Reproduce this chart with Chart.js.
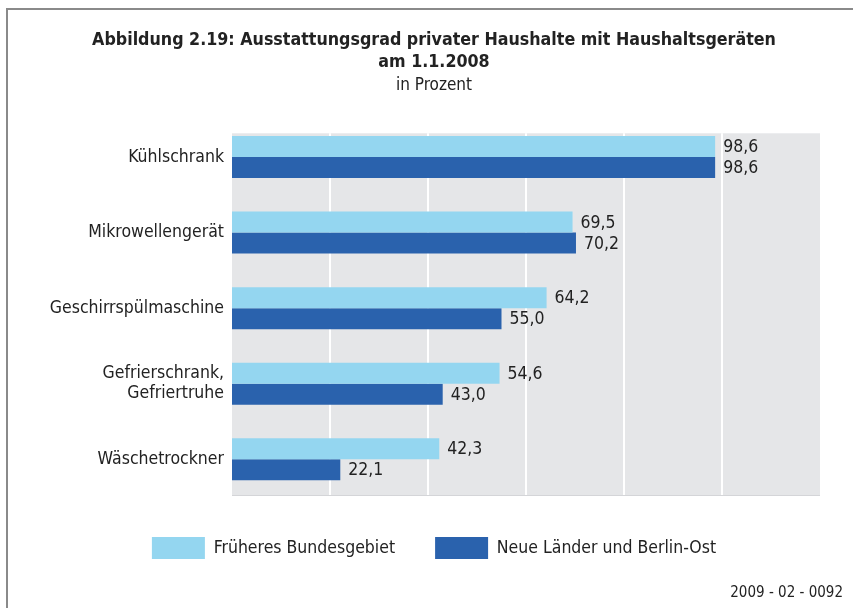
<!DOCTYPE html>
<html lang="de">
<head>
<meta charset="utf-8">
<script src="https://cdn.jsdelivr.net/npm/chart.js@4.4.1/dist/chart.umd.min.js"></script>
<style>
  html, body { margin: 0; padding: 0; background: #fff; }
  #rahmen {
    position: absolute; left: 6px; top: 8px; width: 860px; height: 640px;
    border-top: 2px solid #8a8a8a; border-left: 2px solid #8a8a8a;
  }
  #wrap { position: absolute; left: 0; top: 0; width: 853px; height: 608px; }
  #kennung {
    position: absolute; right: 10px; top: 583px;
    font: 15px "DejaVu Sans Condensed", sans-serif; color: #222;
  }
</style>
</head>
<body>
<div id="rahmen"></div>
<div id="wrap"><canvas id="grafico"></canvas></div>
<div id="kennung">2009 - 02 - 0092</div>
<script>
// ============================
// DATEN
// ============================
const kategorien = ["Kühlschrank", "Mikrowellengerät", "Geschirrspülmaschine", ["Gefrierschrank,", "Gefriertruhe"], "Wäschetrockner"];
const frueheresBundesgebiet = [98.6, 69.5, 64.2, 54.6, 42.3];
const neueLaender = [98.6, 70.2, 55.0, 43.0, 22.1];
const serienNamen = ["Früheres Bundesgebiet", "Neue Länder und Berlin-Ost"];
const achseTicks = [0, 20, 40, 60, 80, 100, 120];

const FONT = '"DejaVu Sans Condensed", sans-serif';

// ============================
// HINTERGRUND + GITTER
// ============================
const hintergrundPlugin = {
    id: "hintergrund",
    beforeDatasetsDraw(chart) {
        const { ctx, chartArea, scales } = chart;
        const top = chartArea.top + 14;
        const bottom = chartArea.bottom - 2;
        ctx.save();
        ctx.fillStyle = "#e5e6e8";
        ctx.fillRect(chartArea.left, top, chartArea.right - chartArea.left, bottom - top);
        ctx.strokeStyle = "#ffffff";
        ctx.lineWidth = 2;
        achseTicks.slice(1, -1).forEach(v => {
            const x = Math.round(scales.x.getPixelForValue(v));
            ctx.beginPath();
            ctx.moveTo(x, top);
            ctx.lineTo(x, bottom);
            ctx.stroke();
        });
        ctx.strokeStyle = "#d4d5d8";
        ctx.lineWidth = 1;
        ctx.beginPath();
        ctx.moveTo(chartArea.left, bottom + 0.5);
        ctx.lineTo(chartArea.right, bottom + 0.5);
        ctx.stroke();
        ctx.restore();
    }
};

// ============================
// WERTE AN DEN BALKEN
// ============================
const wertePlugin = {
    id: "werte",
    afterDatasetsDraw(chart) {
        const { ctx } = chart;
        ctx.save();
        ctx.font = "17.5px " + FONT;
        ctx.fillStyle = "#222";
        ctx.textAlign = "left";
        ctx.textBaseline = "middle";
        chart.data.datasets.forEach((ds, i) => {
            chart.getDatasetMeta(i).data.forEach((bar, j) => {
                const txt = ds.data[j].toFixed(1).replace(".", ",");
                ctx.fillText(txt, bar.x + 8, bar.y + 1);
            });
        });
        ctx.restore();
    }
};

new Chart(document.getElementById("grafico"), {
    type: "bar",
    data: {
        labels: kategorien,
        datasets: [
            { label: serienNamen[0], data: frueheresBundesgebiet, backgroundColor: "#94d6f0" },
            { label: serienNamen[1], data: neueLaender, backgroundColor: "#2a62ad" }
        ]
    },
    options: {
        indexAxis: "y",
        responsive: true,
        maintainAspectRatio: false,
        animation: false,
        layout: { padding: { left: 48, right: 33, top: 0, bottom: 39 } },
        datasets: { bar: { barPercentage: 1, categoryPercentage: 0.556 } },
        scales: {
            x: {
                min: 0, max: 120,
                ticks: { display: false, stepSize: 20 },
                grid: { display: false, drawTicks: false },
                border: { display: false },
                afterFit(scale) { scale.height = 0; }
            },
            y: {
                grid: { display: false, drawTicks: false },
                border: { display: false },
                ticks: { color: "#222", font: { family: FONT, size: 17.5, lineHeight: 1.15 }, padding: 8 },
                afterFit(scale) { scale.width = 184; }
            }
        },
        plugins: {
            title: {
                display: true,
                text: ["Abbildung 2.19: Ausstattungsgrad privater Haushalte mit Haushaltsgeräten", "am 1.1.2008"],
                color: "#222",
                font: { family: FONT, size: 17.7, weight: "bold", lineHeight: 1.24 },
                padding: { top: 29, bottom: 0 }
            },
            subtitle: {
                display: true,
                text: "in Prozent",
                color: "#222",
                font: { family: FONT, size: 17, lineHeight: 1.2 },
                padding: { top: 2, bottom: 24 }
            },
            legend: {
                position: "bottom",
                labels: {
                    boxWidth: 53, boxHeight: 22, padding: 40,
                    color: "#222",
                    font: { family: FONT, size: 17.5 }
                }
            },
            tooltip: { enabled: false }
        }
    },
    plugins: [hintergrundPlugin, wertePlugin]
});
</script>
</body>
</html>
